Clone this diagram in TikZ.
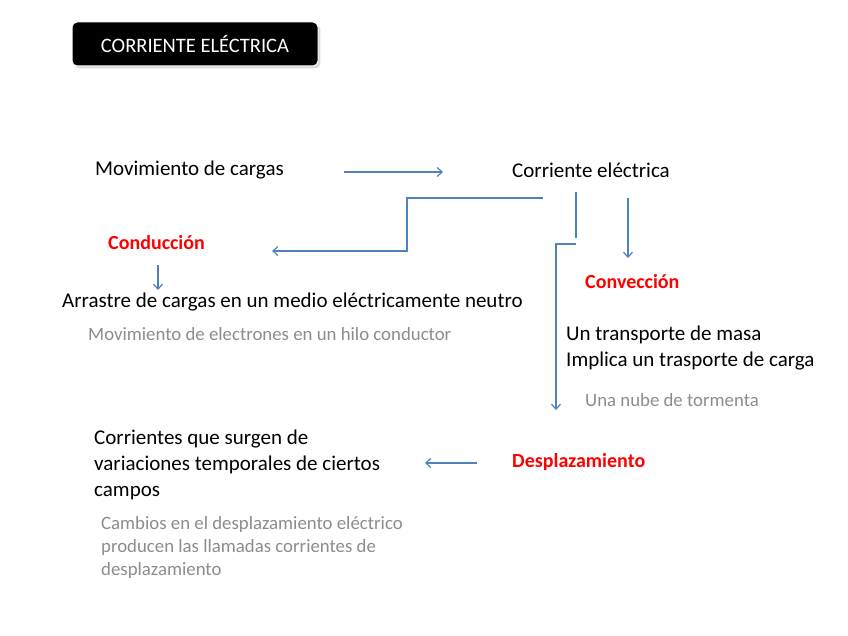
\documentclass[tikz,border=0pt]{standalone}
\usepackage{fontspec}
\setmainfont{Carlito}
\usetikzlibrary{shadows,arrows.meta}
\definecolor{lc}{RGB}{79,129,189}
\definecolor{gr}{RGB}{140,140,140}
\definecolor{rd}{RGB}{255,0,0}
\begin{document}
\begin{tikzpicture}[x=1pt,y=-1pt,
  txt/.style={anchor=west,inner sep=0pt,font=\fontsize{21}{26}\selectfont},
  gtx/.style={txt,text=gr,font=\fontsize{18.8}{23}\selectfont,align=left,anchor=north west},
  rtx/.style={txt,text=rd,font=\bfseries\fontsize{20}{24}\selectfont},
  conn/.style={draw=lc,line width=1.2pt},
  arr/.style={conn,-{Straight Barb[length=5pt,width=9pt]}}]
\useasboundingbox (0,0) rectangle (848,636);
\node[fill=black,rounded corners=5pt,draw=white,line width=1pt,drop shadow={opacity=0.3},minimum width=246pt,minimum height=44pt,text=white,font=\fontsize{20.5}{24}\selectfont] (title) at (195,44) {CORRIENTE ELÉCTRICA};
\node[txt] (mov) at (95,170) {Movimiento de cargas};
\node[txt] (ce) at (512,170) {Corriente eléctrica};
\coordinate (a1) at (344,172); \coordinate (a2) at (443,172);
\draw[arr] (a1) -- (a2);
\node[rtx] (cond) at (108,243) {Conducción};
\coordinate (c1) at (543,198); \coordinate (c2) at (272,251);
\draw[arr] (c1) -- (407,198) -- (407,251) -- (c2);
\coordinate (d1) at (158,265); \coordinate (d2) at (158,290);
\draw[arr] (d1) -- (d2);
\node[txt] (arr) at (62,302) {Arrastre de cargas en un medio eléctricamente neutro};
\node[gtx,anchor=west] (mel) at (88,334) {Movimiento de electrones en un hilo conductor};
\coordinate (e1) at (576,192); \coordinate (e2) at (576,238);
\draw[conn] (e1) -- (e2);
\coordinate (f1) at (576,244); \coordinate (f2) at (556,410);
\draw[arr] (f1) -- (556,244) -- (f2);
\coordinate (g1) at (628,198); \coordinate (g2) at (628,258);
\draw[arr] (g1) -- (g2);
\node[rtx] (conv) at (585,282) {Convección};
\node[txt] (tm) at (566,335) {Un transporte de masa};
\node[txt] (ic) at (566,361) {Implica un trasporte de carga};
\node[gtx,anchor=west] (nube) at (585,400) {Una nube de tormenta};
\node[rtx] (desp) at (512,462) {Desplazamiento};
\coordinate (h1) at (477,463); \coordinate (h2) at (425,463);
\draw[arr] (h1) -- (h2);
\node[txt,anchor=north west,align=left] (cs) at (94,430) {Corrientes que surgen de\\variaciones temporales de ciertos\\campos};
\node[gtx] (cam) at (101,516) {Cambios en el desplazamiento eléctrico\\producen las llamadas corrientes de\\desplazamiento};
\end{tikzpicture}
\end{document}
